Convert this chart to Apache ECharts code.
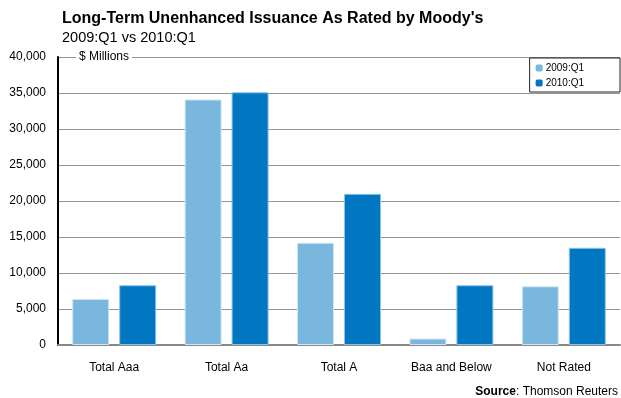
<!DOCTYPE html>
<html>
<head>
<meta charset="utf-8">
<script src="https://cdn.jsdelivr.net/npm/echarts@6/dist/echarts.min.js"></script>
<style>
  html, body { margin: 0; padding: 0; background: #fff; }
  #chart { width: 621px; height: 398px; }
</style>
</head>
<body>
<div id="chart"></div>
<script>
// categories and values ($ Millions)
const categories = ['Total Aaa', 'Total Aa', 'Total A', 'Baa and Below', 'Not Rated'];
const seriesNames = ['2009:Q1', '2010:Q1'];
const q1_2009 = [6400, 34100, 14200, 900, 8150];
const q1_2010 = [8300, 35100, 21000, 8300, 13500];
const yTicks = [0, 5000, 10000, 15000, 20000, 25000, 30000, 35000, 40000];

const FONT = 'Liberation Sans, Arial, sans-serif';
const chart = echarts.init(document.getElementById('chart'));

const option = {
  backgroundColor: '#fff',
  animation: false,
  textStyle: { fontFamily: FONT },
  title: {
    text: "Long-Term Unenhanced Issuance As Rated by Moody's",
    subtext: '2009:Q1 vs 2010:Q1',
    left: 62,
    top: 11,
    padding: 0,
    itemGap: 3,
    textStyle: { fontFamily: FONT, fontSize: 16, fontWeight: 'bold', color: '#000' },
    subtextStyle: { fontFamily: FONT, fontSize: 14.5, color: '#000' }
  },
  legend: {
    data: seriesNames,
    orient: 'vertical',
    right: 1,
    top: 58,
    itemWidth: 7,
    itemHeight: 7,
    itemGap: 5,
    padding: [5, 36, 4, 6],
    borderColor: '#222',
    borderWidth: 1,
    backgroundColor: '#fff',
    itemStyle: { borderWidth: 0 },
    textStyle: { fontFamily: FONT, fontSize: 10, color: '#000', padding: [0, 0, 0, -2] }
  },
  grid: { left: 58, right: 1, top: 57, bottom: 53 },
  xAxis: {
    type: 'category',
    data: categories,
    axisLine: { lineStyle: { color: '#888', width: 2 } },
    axisTick: { show: false },
    axisLabel: { fontFamily: FONT, fontSize: 12, color: '#000', margin: 17 }
  },
  yAxis: {
    type: 'value',
    min: yTicks[0],
    max: yTicks[yTicks.length - 1],
    interval: yTicks[1] - yTicks[0],
    axisLine: { show: true, lineStyle: { color: '#000', width: 2 } },
    axisTick: { show: false },
    splitLine: { lineStyle: { color: '#939393', width: 1 } },
    axisLabel: {
      fontFamily: FONT, fontSize: 12, color: '#000', margin: 12,
      formatter: v => v.toLocaleString('en-US')
    }
  },
  series: [
    {
      name: seriesNames[0],
      type: 'bar',
      data: q1_2009,
      barWidth: 37,
      barGap: '27%',
      itemStyle: { color: '#7ab7de', borderColor: '#cfe6f5', borderWidth: 1 }
    },
    {
      name: seriesNames[1],
      type: 'bar',
      data: q1_2010,
      barWidth: 37,
      itemStyle: { color: '#0077c0', borderColor: '#8fc3e6', borderWidth: 1 }
    }
  ],
  graphic: [
    {
      type: 'text',
      left: 76,
      top: 50,
      z: 100,
      style: {
        text: '$ Millions',
        fontFamily: FONT,
        fontSize: 12,
        fill: '#000',
        backgroundColor: '#fff',
        padding: [1, 3, 1, 3]
      }
    },
    {
      type: 'text',
      right: 3,
      top: 386,
      style: {
        text: '{b|Source}: Thomson Reuters',
        fontFamily: FONT,
        fontSize: 12,
        fill: '#000',
        rich: { b: { fontFamily: FONT, fontSize: 12, fontWeight: 'bold', fill: '#000' } }
      }
    }
  ]
};

chart.setOption(option);
</script>
</body>
</html>
